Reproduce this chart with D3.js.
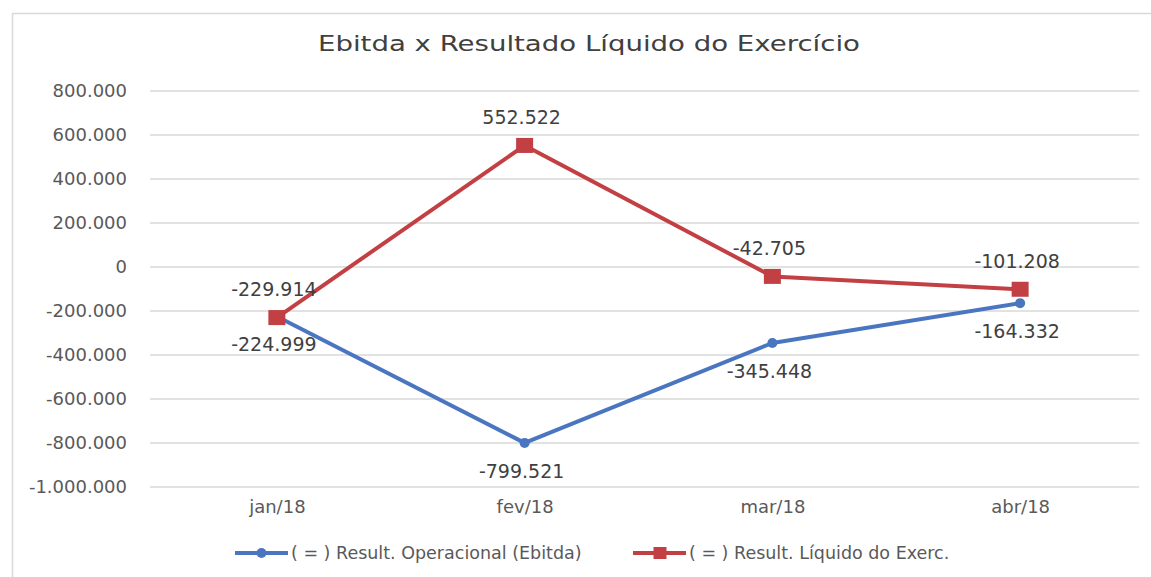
<!DOCTYPE html>
<html>
<head>
<meta charset="utf-8">
<script src="https://cdn.jsdelivr.net/npm/d3@7.9.0/dist/d3.min.js"></script>
<style>
  body { margin: 0; background: #fff; }
  svg { display: block; font-family: "DejaVu Sans", sans-serif; }
</style>
</head>
<body>
<svg width="1151" height="577"></svg>
<script>
// data
const months = ['jan/18', 'fev/18', 'mar/18', 'abr/18'];
const ebitda = [-224999, -799521, -345448, -164332];
const liquido = [-229914, 552522, -42705, -101208];
const yTicks = [800000, 600000, 400000, 200000, 0, -200000, -400000, -600000, -800000, -1000000];
const seriesNames = ['( = ) Result. Operacional (Ebitda)', '( = ) Result. Líquido do Exerc.'];
const title = 'Ebitda x Resultado Líquido do Exercício';

const blue = '#4a76c1';
const red = '#c23f43';

// 1.000.000 style numbers
const fmt = d3.formatLocale({ decimal: ',', thousands: '.', grouping: [3], currency: ['R$', ''] }).format(',d');
const fmtNum = v => fmt(v).replace('−', '-');

const svg = d3.select('svg');

// chart frame
svg.append('rect')
  .attr('x', 12.5).attr('y', 13.5)
  .attr('width', 1300).attr('height', 700)
  .attr('fill', '#fff')
  .attr('stroke', '#d9d9d9')
  .attr('stroke-width', 1.5);

let x = d3.scalePoint().domain(months).range([153, 1144]).padding(0.5);
let y = d3.scaleLinear().domain([-1000000, 800000]).range([487, 91]);

// title
svg.append('text')
  .attr('x', 589).attr('y', 51)
  .attr('text-anchor', 'middle')
  .attr('font-size', 21)
  .attr('fill', '#404040')
  .attr('textLength', 542)
  .attr('lengthAdjust', 'spacingAndGlyphs')
  .text(title);

// gridlines
svg.append('g')
  .selectAll('line')
  .data(yTicks)
  .join('line')
  .attr('x1', 150).attr('x2', 1139)
  .attr('y1', d => y(d)).attr('y2', d => y(d))
  .attr('stroke', '#d9d9d9')
  .attr('stroke-width', 1.5);

// y axis labels
let yAxis = svg.append('g')
  .attr('transform', 'translate(127,0)')
  .call(d3.axisLeft(y).tickValues(yTicks).tickSize(0).tickPadding(0).tickFormat(fmtNum));
yAxis.select('.domain').remove();
yAxis.selectAll('text')
  .attr('font-family', '"DejaVu Sans", sans-serif')
  .attr('font-size', 18)
  .attr('fill', '#595959');

// x axis labels
let xAxis = svg.append('g')
  .attr('transform', 'translate(0,500)')
  .call(d3.axisBottom(x).tickSize(0).tickPadding(0));
xAxis.select('.domain').remove();
xAxis.selectAll('text')
  .attr('font-family', '"DejaVu Sans", sans-serif')
  .attr('font-size', 18)
  .attr('fill', '#595959');

let line = d3.line()
  .x((d, i) => x(months[i]))
  .y(d => y(d));

// blue series
svg.append('path')
  .attr('d', line(ebitda))
  .attr('fill', 'none')
  .attr('stroke', blue)
  .attr('stroke-width', 4)
  .attr('stroke-linejoin', 'round');
svg.append('g')
  .selectAll('circle')
  .data(ebitda)
  .join('circle')
  .attr('cx', (d, i) => x(months[i]))
  .attr('cy', d => y(d))
  .attr('r', 5)
  .attr('fill', blue);

// red series
svg.append('path')
  .attr('d', line(liquido))
  .attr('fill', 'none')
  .attr('stroke', red)
  .attr('stroke-width', 4)
  .attr('stroke-linejoin', 'round');
svg.append('g')
  .selectAll('rect')
  .data(liquido)
  .join('rect')
  .attr('x', (d, i) => x(months[i]) - 8.5)
  .attr('y', d => y(d) - 7.5)
  .attr('width', 17).attr('height', 15)
  .attr('fill', red);

// data labels: red above, blue below
svg.append('g')
  .selectAll('text')
  .data(liquido)
  .join('text')
  .attr('x', (d, i) => x(months[i]) - 3)
  .attr('y', d => y(d) - 28)
  .attr('dy', '0.35em')
  .attr('text-anchor', 'middle')
  .attr('font-size', 19)
  .attr('fill', '#404040')
  .text(d => fmtNum(d));
svg.append('g')
  .selectAll('text')
  .data(ebitda)
  .join('text')
  .attr('x', (d, i) => x(months[i]) - 3)
  .attr('y', d => y(d) + 28)
  .attr('dy', '0.35em')
  .attr('text-anchor', 'middle')
  .attr('font-size', 19)
  .attr('fill', '#404040')
  .text(d => fmtNum(d));

// legend
const legendX = [235, 633];
const colors = [blue, red];
seriesNames.forEach((name, i) => {
  let g = svg.append('g').attr('transform', `translate(${legendX[i]},553)`);
  g.append('line')
    .attr('x1', 0).attr('x2', 53)
    .attr('stroke', colors[i])
    .attr('stroke-width', 4);
  if (i === 0) {
    g.append('circle').attr('cx', 26.5).attr('r', 5).attr('fill', colors[i]);
  } else {
    g.append('rect').attr('x', 20.5).attr('y', -6).attr('width', 13).attr('height', 12).attr('fill', colors[i]);
  }
  g.append('text')
    .attr('x', 56)
    .attr('dy', '0.35em')
    .attr('font-size', 17.5)
    .attr('fill', '#595959')
    .text(name);
});
</script>
</body>
</html>
